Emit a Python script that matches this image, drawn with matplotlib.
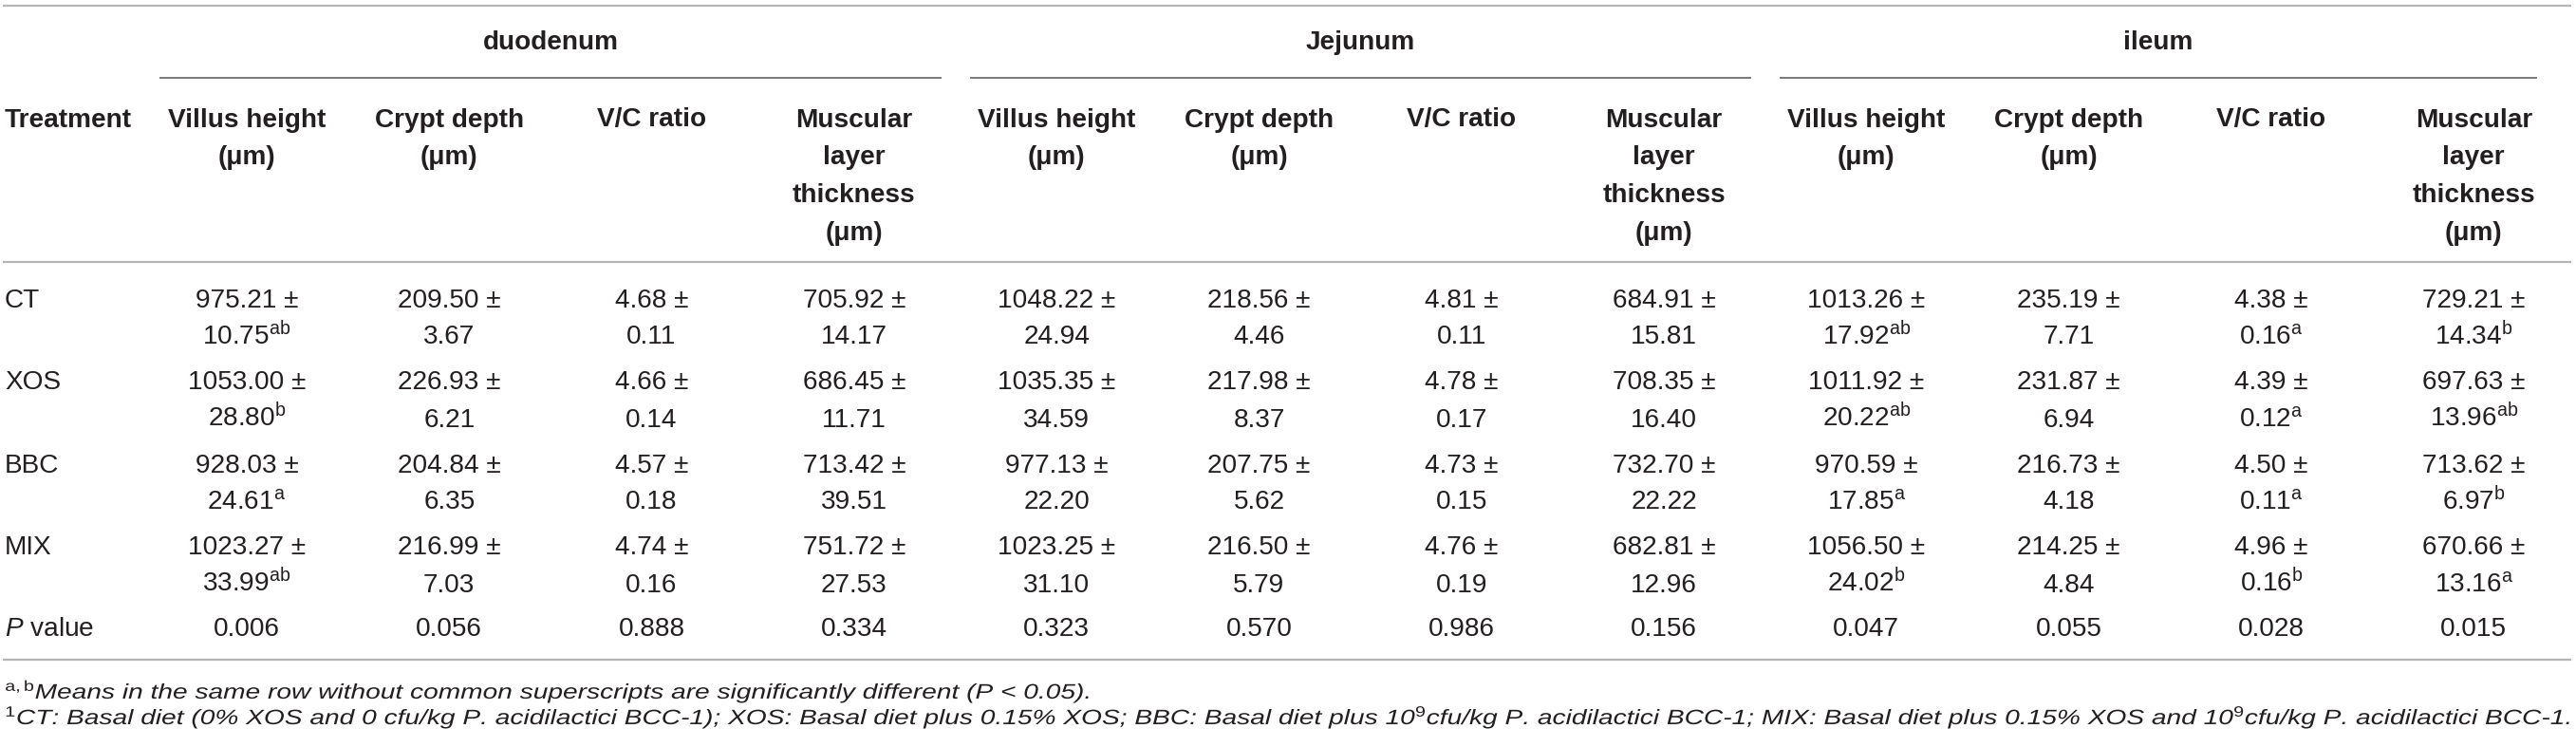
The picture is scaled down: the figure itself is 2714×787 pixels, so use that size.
import matplotlib
matplotlib.use("Agg")
import matplotlib.pyplot as plt
from matplotlib.textpath import TextPath
from matplotlib.patches import PathPatch
from matplotlib.font_manager import FontProperties
from matplotlib.transforms import Affine2D

plt.rcParams['font.family'] = ['Liberation Sans', 'DejaVu Sans']
plt.rcParams['mathtext.fontset'] = 'custom'
plt.rcParams['mathtext.rm'] = 'Liberation Sans'
plt.rcParams['mathtext.it'] = 'Liberation Sans:italic'
plt.rcParams['mathtext.bf'] = 'Liberation Sans:bold'

# table content
treatments = ["CT", "XOS", "BBC", "MIX"]
segments = ["duodenum", "Jejunum", "ileum"]
measures = [["Villus height", "(μm)"], ["Crypt depth", "(μm)"], ["V/C ratio"],
            ["Muscular", "layer", "thickness", "(μm)"]]

# rows = treatments, columns = villus height, crypt depth, V/C ratio, muscular layer
duodenum_mean = [[975.21, 209.50, 4.68, 705.92],
                 [1053.00, 226.93, 4.66, 686.45],
                 [928.03, 204.84, 4.57, 713.42],
                 [1023.27, 216.99, 4.74, 751.72]]
duodenum_sem = [[10.75, 3.67, 0.11, 14.17],
                [28.80, 6.21, 0.14, 11.71],
                [24.61, 6.35, 0.18, 39.51],
                [33.99, 7.03, 0.16, 27.53]]
duodenum_sup = [["ab", "", "", ""],
                ["b", "", "", ""],
                ["a", "", "", ""],
                ["ab", "", "", ""]]
duodenum_p = ["0.006", "0.056", "0.888", "0.334"]

jejunum_mean = [[1048.22, 218.56, 4.81, 684.91],
                [1035.35, 217.98, 4.78, 708.35],
                [977.13, 207.75, 4.73, 732.70],
                [1023.25, 216.50, 4.76, 682.81]]
jejunum_sem = [[24.94, 4.46, 0.11, 15.81],
               [34.59, 8.37, 0.17, 16.40],
               [22.20, 5.62, 0.15, 22.22],
               [31.10, 5.79, 0.19, 12.96]]
jejunum_sup = [["", "", "", ""],
               ["", "", "", ""],
               ["", "", "", ""],
               ["", "", "", ""]]
jejunum_p = ["0.323", "0.570", "0.986", "0.156"]

ileum_mean = [[1013.26, 235.19, 4.38, 729.21],
              [1011.92, 231.87, 4.39, 697.63],
              [970.59, 216.73, 4.50, 713.62],
              [1056.50, 214.25, 4.96, 670.66]]
ileum_sem = [[17.92, 7.71, 0.16, 14.34],
             [20.22, 6.94, 0.12, 13.96],
             [17.85, 4.18, 0.11, 6.97],
             [24.02, 4.84, 0.16, 13.16]]
ileum_sup = [["ab", "", "a", "b"],
             ["ab", "", "a", "ab"],
             ["a", "", "a", "b"],
             ["b", "", "b", "a"]]
ileum_p = ["0.047", "0.055", "0.028", "0.015"]

footnote1 = "$^{\\mathrm{a,b}}$Means in the same row without common superscripts are significantly different (P < 0.05)."
footnote2 = ("$^{\\mathrm{1}}$CT: Basal diet (0% XOS and 0 cfu/kg P. acidilactici BCC-1); "
             "XOS: Basal diet plus 0.15% XOS; BBC: Basal diet plus 10$^{\\mathrm{9}}$cfu/kg P. acidilactici BCC-1; "
             "MIX: Basal diet plus 0.15% XOS and 10$^{\\mathrm{9}}$cfu/kg P. acidilactici BCC-1.")

means = [duodenum_mean, jejunum_mean, ileum_mean]
sems = [duodenum_sem, jejunum_sem, ileum_sem]
sups = [duodenum_sup, jejunum_sup, ileum_sup]
pvals = [duodenum_p, jejunum_p, ileum_p]

W, H = 2714, 787
fig = plt.figure(figsize=(W / 100, H / 100), dpi=100)
ax = fig.add_axes([0, 0, 1, 1])
ax.set_xlim(0, W)
ax.set_ylim(H, 0)
ax.axis("off")

txt = "#231f20"
fs = 20.2
cap = 10.5  # half cap height in px, to turn centre into baseline

col0 = 153.3
colw = 213.3


def center(k):
    return col0 + colw * (k + 0.5)


def put(x, y, s, ha="center", **kw):
    ax.text(x, y + cap, s, ha=ha, va="baseline", fontsize=kw.pop("size", fs),
            color=txt, **kw)


# rules
ax.plot([3, 2709], [6, 6], color="#b5b5b5", lw=1.6, solid_capstyle="butt")
ax.plot([3, 2709], [276, 276], color="#b5b5b5", lw=1.6, solid_capstyle="butt")
ax.plot([3, 2709], [695, 695], color="#b5b5b5", lw=1.6, solid_capstyle="butt")
for g in range(3):
    x0 = col0 + colw * 4 * g + 15
    x1 = col0 + colw * 4 * (g + 1) - 15
    if g == 2:
        x1 = 2673
    ax.plot([x0, x1], [82, 82], color="#6e6e6e", lw=1.3, solid_capstyle="butt")
    put((x0 + x1) / 2, 42, segments[g], weight="bold")

# header
put(5, 123, "Treatment", ha="left", weight="bold")
for g in range(3):
    for m, lines in enumerate(measures):
        for li, line in enumerate(lines):
            put(center(4 * g + m), 123 + 39.7 * li, line, weight="bold")

# body
for r, name in enumerate(treatments):
    y = 313 + 87 * r
    put(5, y, name, ha="left")
    for g in range(3):
        for m in range(4):
            x = center(4 * g + m)
            put(x, y, f"{means[g][r][m]:.2f} ±")
            sup = sups[g][r][m]
            second = f"{sems[g][r][m]:.2f}"
            if sup:
                second += "$^{\\mathrm{" + sup + "}}$"
            put(x, y + 39, second)

put(5, 660, "$\\mathit{P}$ value", ha="left")
for g in range(3):
    for m in range(4):
        put(center(4 * g + m), 660, pvals[g][m])

# footnotes: italic, drawn a little wide like the source
note_fp = FontProperties(family="Liberation Sans", style="italic")
note_px = 22
sx = 2700 / TextPath((0, 0), footnote2, size=note_px, prop=note_fp).get_extents().width


def note(y, s):
    p = TextPath((0, 0), s, size=note_px, prop=note_fp)
    tr = Affine2D().scale(sx, -1).translate(5, y)
    ax.add_patch(PathPatch(tr.transform_path(p), facecolor=txt, edgecolor="none"))


note(736, footnote1)
note(763, footnote2)

fig.savefig("out.png", dpi=100)
